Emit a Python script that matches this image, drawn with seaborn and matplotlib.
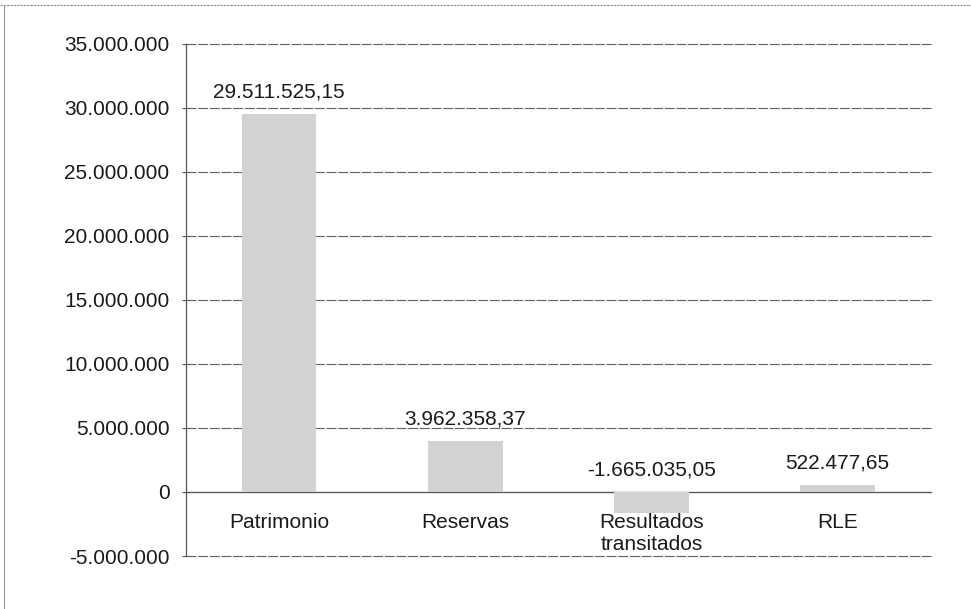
import matplotlib
matplotlib.use("Agg")
import matplotlib.pyplot as plt
import seaborn as sns
import pandas as pd
from matplotlib.ticker import FuncFormatter, FixedLocator
from matplotlib.lines import Line2D

OUTPUT_FILE = "out.png"

categories = ["Patrimonio", "Reservas", "Resultados\ntransitados", "RLE"]
values = [29511525.15, 3962358.37, -1665035.05, 522477.65]
y_ticks = [-5000000, 0, 5000000, 10000000, 15000000, 20000000, 25000000, 30000000, 35000000]


def fmt_int(v, pos=None):
    return f"{v:,.0f}".replace(",", ".")


def fmt_dec(v):
    s = f"{v:,.2f}"
    return s.replace(",", "X").replace(".", ",").replace("X", ".")


def plot_chart(df, output_path):
    sns.set_style("white")
    plt.rcParams['font.family'] = ['Liberation Sans', 'DejaVu Sans']

    fig = plt.figure(figsize=(9.71, 6.09), dpi=100)
    ax = fig.add_axes([0.1916, 0.087, 0.767, 0.841])

    sns.barplot(data=df, x='category', y='value', color='#d2d2d2',
                width=0.4, saturation=1, edgecolor='none', linewidth=0,
                ax=ax, zorder=3)

    ax.set_ylim(-5000000, 35000000)
    ax.set_xlim(-0.5, 3.5)
    ax.yaxis.set_major_locator(FixedLocator(y_ticks))
    ax.yaxis.set_major_formatter(FuncFormatter(fmt_int))

    # gridlines (scanned look)
    ax.grid(axis='y', color='#5e5e5e', linewidth=0.8, linestyle=(0, (9, 1.5)), zorder=0)
    for gl in ax.get_ygridlines():
        gl.set_clip_on(False)

    # category axis at zero
    ax.spines['bottom'].set_position(('data', 0))
    ax.spines['bottom'].set_color('#555555')
    ax.spines['bottom'].set_linewidth(0.9)
    ax.spines['left'].set_color('#555555')
    ax.spines['left'].set_linewidth(0.9)
    ax.spines['top'].set_visible(False)
    ax.spines['right'].set_visible(False)

    ax.set_xticks([0.5, 1.5, 2.5, 3.5], minor=True)
    ax.tick_params(axis='x', which='major', length=0, pad=15, labelsize=15, labelcolor='#1a1a1a')
    ax.tick_params(axis='x', which='minor', length=4, direction='out', color='#555555')
    ax.tick_params(axis='y', which='major', length=3, direction='out', pad=9,
                   labelsize=15, labelcolor='#1a1a1a', color='#555555', left=True)

    ax.set_xlabel('')
    ax.set_ylabel('')

    for i, v in enumerate(df['value']):
        ax.annotate(fmt_dec(v), xy=(i, max(v, 0)), xytext=(0, 9),
                    textcoords='offset points', ha='center', va='bottom',
                    fontsize=15, color='#1a1a1a')

    # page frame of the scanned chart
    fig.add_artist(Line2D([0.0, 1.0], [0.992, 0.992], transform=fig.transFigure,
                          color='#8a8a8a', linewidth=0.8, linestyle=(0, (2, 1))))
    fig.add_artist(Line2D([0.004, 0.004], [0.0, 0.992], transform=fig.transFigure,
                          color='#9a9a9a', linewidth=0.8))

    fig.savefig(output_path, dpi=100)
    plt.close(fig)


if __name__ == "__main__":
    data = pd.DataFrame({'category': categories, 'value': values})
    plot_chart(data, OUTPUT_FILE)
